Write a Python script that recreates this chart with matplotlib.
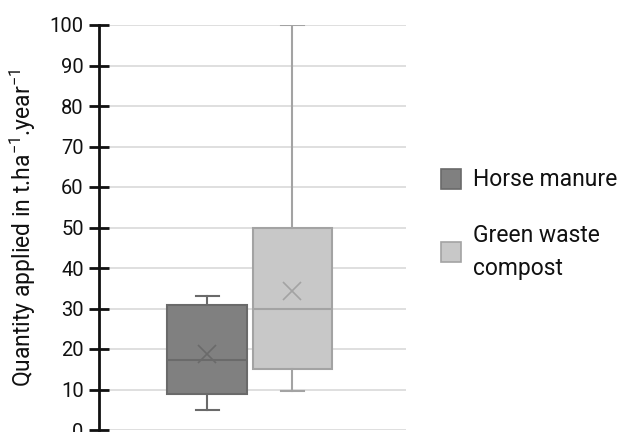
import matplotlib
matplotlib.use("Agg")
import matplotlib.pyplot as plt
from matplotlib.patches import Rectangle

plt.rcParams['font.family'] = ['Roboto', 'DejaVu Sans']
plt.rcParams['mathtext.fontset'] = 'custom'
plt.rcParams['mathtext.rm'] = 'Roboto'
plt.rcParams['mathtext.it'] = 'Roboto'

categories = ["Horse manure", "Green waste\ncompost"]
whislo = [5.0, 9.7]
q1 = [8.8, 15.1]
med = [17.4, 30.0]
q3 = [30.9, 50.0]
whishi = [33.0, 100.0]
means = [18.7, 34.4]
yticks = [0, 10, 20, 30, 40, 50, 60, 70, 80, 90, 100]

fills = ["#808080", "#c8c8c8"]
edges = ["#6a6a6a", "#a3a3a3"]

W, H = 623, 432
fig = plt.figure(figsize=(W / 100, H / 100), dpi=100)
ax = fig.add_axes([99/W, 2/H, 307/W, 405/H])

positions = [0.352, 0.630]
for i in range(2):
    stats = [dict(whislo=whislo[i], q1=q1[i], med=med[i], q3=q3[i],
                  whishi=whishi[i], mean=means[i], fliers=[])]
    ax.bxp(stats, positions=[positions[i]], widths=0.26, showmeans=True,
           patch_artist=True, manage_ticks=False,
           boxprops=dict(facecolor=fills[i], edgecolor=edges[i], linewidth=1.5),
           medianprops=dict(color=edges[i], linewidth=1.5),
           whiskerprops=dict(color=edges[i], linewidth=1.5),
           capprops=dict(color=edges[i], linewidth=1.5),
           capwidths=0.075,
           meanprops=dict(marker='x', markersize=13, markeredgecolor=edges[i],
                          markeredgewidth=1.2, markerfacecolor='none'),
           zorder=3)

ax.set_xlim(0, 1)
ax.set_ylim(0, 100)
ax.set_yticks(yticks)
ax.set_xticks([])
ax.yaxis.grid(True, color='#d9d9d9', linewidth=1.2)
ax.set_axisbelow(True)
for s in ['top', 'right', 'bottom']:
    ax.spines[s].set_visible(False)
ax.spines['left'].set_linewidth(2)
ax.spines['left'].set_color('#111111')
ax.tick_params(axis='y', direction='inout', length=14, width=2, labelsize=14.5,
               color='#111111', labelcolor='#111111', pad=4)
ax.set_ylabel(r'Quantity applied in t.ha$^{-1}$.year$^{-1}$', fontsize=16.5,
              color='#111111', labelpad=8)

# legend drawn in figure pixel positions
sq = 20
legend_rows = [(179, 1.2), (252, 1.5)]
for i, (yc, ls) in enumerate(legend_rows):
    fig.patches.append(Rectangle((441 / W, (H - yc - sq / 2) / H), sq / W, sq / H,
                                 transform=fig.transFigure, facecolor=fills[i],
                                 edgecolor=edges[i], linewidth=1.2))
    fig.text(473 / W, (H - yc) / H, categories[i], ha='left', va='center',
             fontsize=16.5, color='#111111', linespacing=ls)

fig.savefig("out.png", dpi=100)
